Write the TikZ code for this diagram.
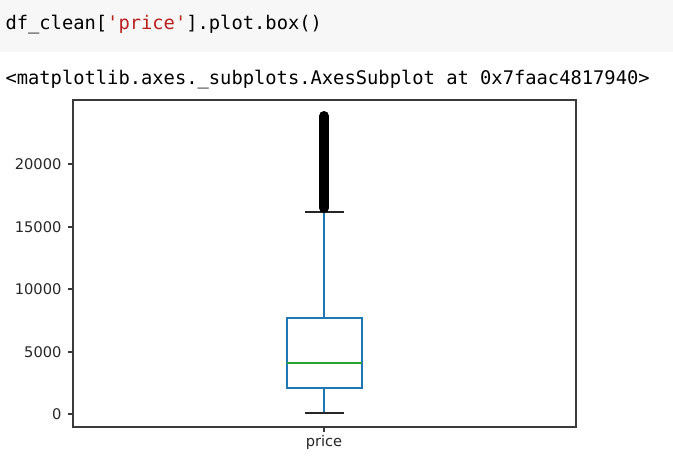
\documentclass[tikz,border=0pt]{standalone}
\usepackage{fontspec}
\setmainfont{DejaVu Sans}
\newfontfamily\codefont{DejaVu Sans Mono}

\definecolor{incell}{HTML}{F7F7F7}
\definecolor{strred}{HTML}{BA2121}
\definecolor{boxblue}{HTML}{1F77B4}
\definecolor{medgreen}{HTML}{2CA02C}
\definecolor{axgray}{HTML}{3A3A3A}

\tikzset{every picture/.style={line width=0.75pt}}
\tikzset{
  codetxt/.style={anchor=base west,inner sep=0pt,font=\codefont\fontsize{14.08pt}{16pt}\selectfont},
  ticklbl/.style={anchor=east,inner sep=0.75pt,text=black!85,font=\fontsize{11pt}{13pt}\selectfont},
  boxline/.style={draw=boxblue,line width=1.2pt},
}

\begin{document}
\begin{tikzpicture}[x=0.75pt,y=0.75pt,yscale=-1,xscale=1]
\useasboundingbox (0,0) rectangle (673,470);

%Shape: Rectangle [input cell]
\fill[incell] (0,0) rectangle (673,52);

% Text Node
\draw (5,30) node [codetxt] (incode) {df\_clean[\textcolor{strred}{'price'}].plot.box()};
% Text Node
\draw (5,85) node [codetxt] (outrepr) {<matplotlib.axes.\_subplots.AxesSubplot at 0x7faac4817940>};

%Straight Lines [y ticks]
\draw [axgray,line width=1pt] (68,164) -- (73,164) (68,227) -- (73,227) (68,289) -- (73,289) (68,352) -- (73,352) (68,414) -- (73,414) ;
%Straight Lines [x tick]
\draw [axgray,line width=1pt] (324,427) -- (324,432) ;

% Text Node
\draw (63,164) node [ticklbl] (lbl20k) {20000};
% Text Node
\draw (63,227) node [ticklbl] (lbl15k) {15000};
% Text Node
\draw (63,289) node [ticklbl] (lbl10k) {10000};
% Text Node
\draw (63,352) node [ticklbl] (lbl5k) {5000};
% Text Node
\draw (63,414) node [ticklbl] (lbl0) {0};
% Text Node
\draw (324,434) node [anchor=north,inner sep=0.75pt,text=black!85,font=\fontsize{11pt}{13pt}\selectfont] (lblprice) {price};

%Straight Lines [whiskers]
\draw [boxline] (324,318) -- (324,212) ;
\draw [boxline] (324,388) -- (324,413) ;
%Shape: Rectangle [box]
\draw [boxline] (287,318) rectangle (362,388) ;
%Straight Lines [median]
\draw [medgreen,line width=1.1pt] (287,363) -- (362,363) ;
%Straight Lines [caps]
\draw [black!85,line width=1.1pt] (305,212) -- (344,212) ;
\draw [black!85,line width=1.1pt] (305,413) -- (344,413) ;
%Straight Lines [outliers]
\draw [black,line width=7.5pt,line cap=round] (324,116) -- (324,208) ;

%Shape: Rectangle [axes frame]
\draw [axgray,line width=1.1pt] (73,100) rectangle (576,427) ;

\end{tikzpicture}
\end{document}
